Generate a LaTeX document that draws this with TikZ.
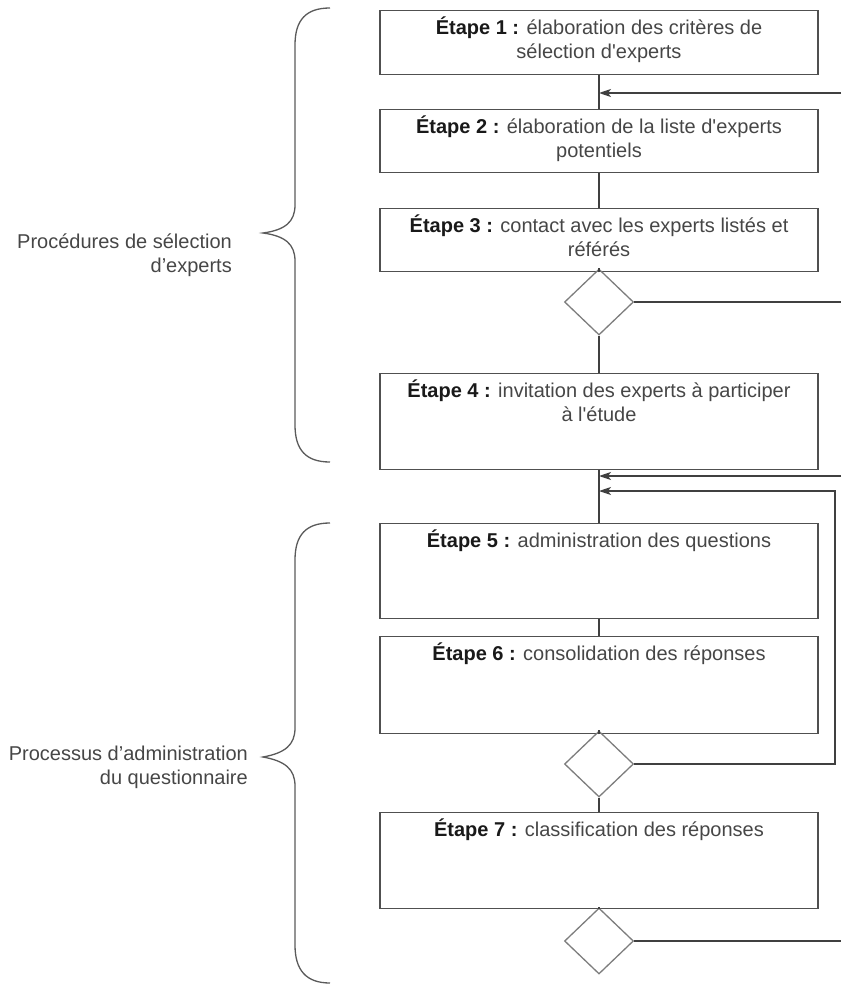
\documentclass[tikz,border=0pt]{standalone}
\usepackage{fontspec}
\setmainfont{Liberation Sans}[Ligatures=TeXOff]
\usetikzlibrary{shapes.geometric,arrows.meta}
\definecolor{linec}{RGB}{64,64,64}
\definecolor{boxc}{RGB}{80,80,80}
\definecolor{diac}{RGB}{125,125,125}
\definecolor{bracec}{RGB}{90,90,90}
\definecolor{txtc}{RGB}{70,70,70}
\definecolor{boldc}{RGB}{25,25,25}
\newcommand{\stepname}[1]{\textbf{\color{boldc}#1}}
\begin{document}
\begin{tikzpicture}[x=1pt,y=-1pt,
  stepbox/.style={draw=boxc, line width=1.3pt, minimum width=438pt, inner sep=0pt, anchor=north},
  steptext/.style={anchor=north, align=center, inner sep=0pt, text=txtc, font=\fontsize{20}{24}\selectfont},
  decision/.style={draw=diac, line width=1.3pt, shape=diamond, aspect=1.05, minimum width=69pt, minimum height=66pt, inner sep=0pt},
  ln/.style={draw=linec, line width=1.3pt},
  arr/.style={ln, -{Stealth[length=12pt,width=8pt,inset=3pt]}},
  brc/.style={draw=bracec, line width=1.3pt},
  grouplabel/.style={anchor=east, align=right, inner sep=0pt, text=txtc, font=\fontsize{20}{24}\selectfont}
]
\useasboundingbox (0,0) rectangle (841,987);

% boxes
\node[stepbox, minimum height=64pt] (b1) at (599,10) {};
\node[stepbox, minimum height=63pt] (b2) at (599,109) {};
\node[stepbox, minimum height=63pt] (b3) at (599,208) {};
\node[stepbox, minimum height=96pt] (b4) at (599,373) {};
\node[stepbox, minimum height=95pt] (b5) at (599,523) {};
\node[stepbox, minimum height=97pt] (b6) at (599,636) {};
\node[stepbox, minimum height=96pt] (b7) at (599,812) {};

% texts
\node[steptext] (t1) at (599,15) {\rule{0pt}{19pt}\stepname{Étape 1 :} élaboration des critères de\\sélection d'experts};
\node[steptext] (t2) at (599,114) {\rule{0pt}{19pt}\stepname{Étape 2 :} élaboration de la liste d'experts\\potentiels};
\node[steptext] (t3) at (599,213) {\rule{0pt}{19pt}\stepname{Étape 3 :} contact avec les experts listés et\\référés};
\node[steptext] (t4) at (599,378) {\rule{0pt}{19pt}\stepname{Étape 4 :} invitation des experts à participer\\à l'étude};
\node[steptext] (t5) at (599,528) {\rule{0pt}{19pt}\stepname{Étape 5 :} administration des questions};
\node[steptext] (t6) at (599,641) {\rule{0pt}{19pt}\stepname{Étape 6 :} consolidation des réponses};
\node[steptext] (t7) at (599,817) {\rule{0pt}{19pt}\stepname{Étape 7 :} classification des réponses};

% decisions
\node[decision] (d1) at (599,302) {};
\node[decision] (d2) at (599,764) {};
\node[decision] (d3) at (599,941) {};

% free ends
\coordinate (in1) at (841,93);
\coordinate (o1) at (841,302);
\coordinate (in2) at (841,476);
\coordinate (lp) at (835,491);
\coordinate (o3) at (841,941);

% connectors
\draw[ln] (b1.south) -- (b2.north);
\draw[ln] (b2.south) -- (b3.north);
\draw[ln] (b3.south) -- (d1.north);
\draw[ln] (d1.south) -- (b4.north);
\draw[ln] (b4.south) -- (b5.north);
\draw[ln] (b5.south) -- (b6.north);
\draw[ln] (b6.south) -- (d2.north);
\draw[ln] (d2.south) -- (b7.north);
\draw[ln] (b7.south) -- (d3.north);
\draw[ln] (d1.east) -- (o1);
\draw[ln] (d3.east) -- (o3);
\draw[arr] (in1) -- (in1 -| b1.south);
\draw[arr] (in2) -- (in2 -| b4.south);
\draw[arr] (d2.east) -| (lp) -- (lp -| b4.south);

% braces
\draw[brc] (330,8) .. controls (306,8) and (295,20) .. (295,45) -- (295,205)
  .. controls (295,222) and (285,230) .. (263,233)
  .. controls (285,236) and (295,244) .. (295,261) -- (295,425)
  .. controls (295,450) and (306,462) .. (330,462);
\draw[brc] (330,523) .. controls (306,523) and (295,535) .. (295,560) -- (295,728)
  .. controls (295,745) and (285,753) .. (263,757)
  .. controls (285,761) and (295,769) .. (295,786) -- (295,945)
  .. controls (295,970) and (306,983) .. (330,983);

% group labels
\node[grouplabel] (g1) at (232,255) {Procédures de sélection\\d’experts};
\node[grouplabel] (g2) at (248,767) {Processus d’administration\\du questionnaire};
\end{tikzpicture}
\end{document}
